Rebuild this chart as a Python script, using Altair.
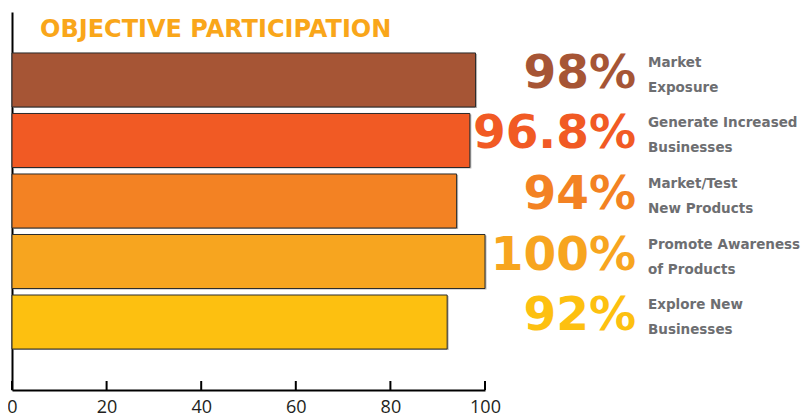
import altair as alt
import pandas as pd

categories = ["Market Exposure", "Generate Increased Businesses", "Market/Test New Products",
              "Promote Awareness of Products", "Explore New Businesses"]
label_lines = [["Market", "Exposure"], ["Generate Increased", "Businesses"],
               ["Market/Test", "New Products"], ["Promote Awareness", "of Products"],
               ["Explore New", "Businesses"]]
values = [98, 96.8, 94, 100, 92]
colors = ["#A65535", "#F15A24", "#F38223", "#F7A51F", "#FDC010"]
tick_values = [0, 20, 40, 60, 80, 100]
title_text = "OBJECTIVE PARTICIPATION"

W, H = 473, 378

df = pd.DataFrame({
    "category": categories,
    "value": values,
    "color": colors,
    "pct": [f"{v:g}%" for v in values],
    "lines": label_lines,
})

yenc = alt.Y("category:N", sort=categories,
             scale=alt.Scale(paddingInner=0.107, paddingOuter=0.677),
             axis=alt.Axis(title=None, labels=False, ticks=False, domain=True,
                           domainColor="#000000", domainWidth=2))

base = alt.Chart(df)

shadow = base.mark_bar(color="#b8b8b8", xOffset=1.5, x2Offset=1.5, yOffset=1, y2Offset=1).encode(
    x=alt.X("value:Q", scale=alt.Scale(domain=[0, 100]),
            axis=alt.Axis(title=None, values=tick_values, ticks=False, grid=False,
                          domainColor="#000000", domainWidth=2, labelFontSize=18,
                          labelFont="Open Sans", labelColor="#231F20", labelPadding=8,
                          labelFlush=False)),
    y=yenc,
)

bars = base.mark_bar(stroke="#2a2a2a", strokeWidth=1).encode(
    x=alt.X("value:Q"),
    y=yenc,
    color=alt.Color("color:N", scale=None),
)

tick_df = pd.DataFrame({"t": tick_values})
ticks = alt.Chart(tick_df).mark_rule(color="#000000", strokeWidth=2).encode(
    x="t:Q", y=alt.value(H - 9), y2=alt.value(H))

pct = base.mark_text(font="DejaVu Sans", fontWeight="bold", fontSize=47, align="right",
                     baseline="middle", dy=-6).encode(
    x=alt.value(624), y=yenc, text="pct:N", color=alt.Color("color:N", scale=None))

labels = base.mark_text(font="DejaVu Sans", fontWeight="bold", fontSize=13.5, align="left",
                        baseline="middle", dy=-17, lineHeight=25, color="#6D6E71").encode(
    x=alt.value(636), y=yenc, text="lines")

title = alt.Chart(pd.DataFrame({"t": [title_text]})).mark_text(
    font="DejaVu Sans", fontWeight="bold", fontSize=24, align="left",
    baseline="alphabetic", color="#F9A61A").encode(
    x=alt.value(28), y=alt.value(25), text="t:N")

chart = alt.layer(shadow, bars, ticks, pct, labels, title).properties(
    width=W, height=H,
    autosize=alt.AutoSizeParams(type="none"),
    padding={"left": 4, "top": 4, "right": 316, "bottom": 26},
).configure_view(stroke=None)

chart.save("out.html", embed_options={"renderer": "svg", "actions": False})
